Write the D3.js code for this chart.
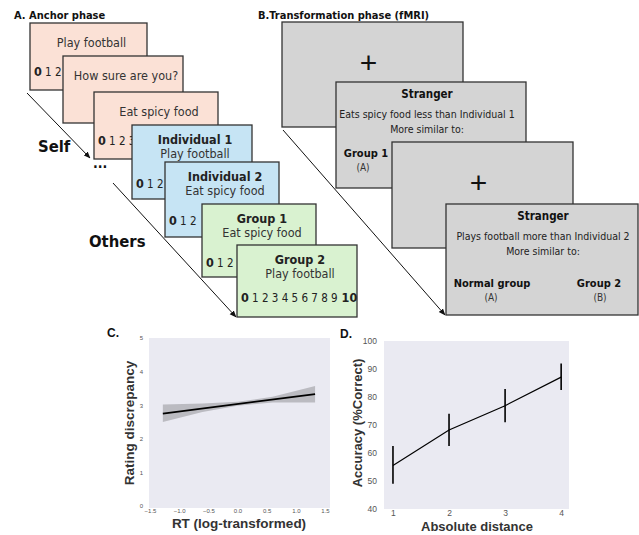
<!DOCTYPE html>
<html>
<head>
<meta charset="utf-8">
<script src="https://cdn.jsdelivr.net/npm/d3@7"></script>
<style>
  body { margin: 0; background: #fff; }
  svg { display: block; }
</style>
</head>
<body>
<div id="fig"></div>
<script>
// ---- panel A/B text content
const anchorTitles = [null, null, null, "Individual 1", "Individual 2", "Group 1", "Group 2"];
const anchorItems = ["Play football", "How sure are you?", "Eat spicy food", "Play football", "Eat spicy food", "Eat spicy food", "Play football"];
const ratingScale = ["0", "1", "2", "3", "4", "5", "6", "7", "8", "9", "10"];
// how many scale numbers peek out from under the next card (card 2 shows none)
const visibleNums = [3, 0, 4, 3, 3, 3, 11];
const strangerLines = [
  ["Eats spicy food less than Individual 1", "More similar to:"],
  ["Plays football more than Individual 2", "More similar to:"]
];
const choiceA = ["Group 1", "Normal group"];
const choiceB = [null, "Group 2"];

// ---- panel C data
const rtX = [-1.28, 1.33];
const fitY = [2.75, 3.33];
const bandX = [-1.28, -0.6, 0.0, 0.6, 1.33];
const bandLo = [2.5, 2.8, 2.98, 3.08, 3.08];
const bandHi = [3.02, 3.05, 3.1, 3.25, 3.57];
const cTicksX = [-1.5, -1.0, -0.5, 0.0, 0.5, 1.0, 1.5];
const cTicksY = [0, 1, 2, 3, 4, 5];

// ---- panel D data
const distance = [1, 2, 3, 4];
const accuracy = [55.5, 68.2, 76.9, 87.1];
const errLo = [49, 62.5, 71, 82.5];
const errHi = [62.5, 74, 82.9, 92];
const dTicksY = [40, 50, 60, 70, 80, 90, 100];

const W = 639, H = 535;
const svg = d3.select("#fig").append("svg").attr("width", W).attr("height", H);

svg.append("defs").append("marker")
  .attr("id", "arr").attr("viewBox", "0 0 10 10").attr("refX", 9).attr("refY", 5)
  .attr("markerWidth", 7).attr("markerHeight", 7).attr("orient", "auto")
  .append("path").attr("d", "M0,1 L10,5 L0,9 z").attr("fill", "#111");

const cardFont = "'DejaVu Sans Condensed', 'DejaVu Sans', sans-serif";
const plotFont = "'Liberation Sans', Arial, sans-serif";

// ---------------- Panel A
svg.append("text").attr("x", 14).attr("y", 19).attr("font-family", cardFont)
  .attr("font-weight", "bold").attr("font-size", 11).attr("fill", "#111").text("A. Anchor phase");

// card boxes [x, y, w, h, fill]
const aLayout = [
  [30, 23, 117, 67, "#fbe1d6"],
  [63, 56, 120, 67, "#fbe1d6"],
  [94, 92, 124, 67, "#fbe1d6"],
  [132, 125, 120, 74, "#c6e4f4"],
  [165, 162, 114, 75, "#c6e4f4"],
  [202, 204, 114, 73, "#d9f2d0"],
  [237, 245, 120, 72, "#d9f2d0"]
];

// arrows of panel A (drawn under cards)
svg.append("line").attr("x1", 27).attr("y1", 93).attr("x2", 90).attr("y2", 158)
  .attr("stroke", "#111").attr("stroke-width", 1).attr("marker-end", "url(#arr)");
svg.append("line").attr("x1", 113).attr("y1", 183).attr("x2", 236).attr("y2", 317)
  .attr("stroke", "#111").attr("stroke-width", 1).attr("marker-end", "url(#arr)");

aLayout.forEach((b, i) => {
  const g = svg.append("g").attr("transform", `translate(${b[0]},${b[1]})`);
  g.append("rect").attr("width", b[2]).attr("height", b[3]).attr("fill", b[4])
    .attr("stroke", "#333").attr("stroke-width", 1.3);
  const cx = b[2] / 2 + 3;
  const titled = anchorTitles[i] !== null;
  if (titled) {
    g.append("text").attr("x", cx).attr("y", 19).attr("text-anchor", "middle")
      .attr("font-family", cardFont).attr("font-weight", "bold").attr("font-size", 12.5)
      .attr("fill", "#222").text(anchorTitles[i]);
  }
  g.append("text").attr("x", cx).attr("y", titled ? 33 : 24).attr("text-anchor", "middle")
    .attr("font-family", cardFont).attr("font-size", 12.5).attr("fill", "#333").text(anchorItems[i]);
  if (visibleNums[i] > 0) {
    const nums = g.append("text").attr("x", 4).attr("y", i === 6 ? 57 : (titled ? 63 : 53))
      .attr("font-family", cardFont).attr("font-size", 11.5).attr("fill", "#222");
    ratingScale.slice(0, visibleNums[i]).forEach((n, k) => {
      const strong = k === 0 || k === ratingScale.length - 1;
      nums.append("tspan").attr("font-weight", strong ? "bold" : "normal")
        .attr("font-size", strong ? 12.5 : 11.5)
        .text((k ? " " : "") + n);
    });
  }
});

svg.append("text").attr("x", 38).attr("y", 152).attr("font-family", cardFont)
  .attr("font-weight", "bold").attr("font-size", 16.5).attr("fill", "#111").text("Self");
svg.append("text").attr("x", 93).attr("y", 168).attr("font-family", cardFont)
  .attr("font-weight", "bold").attr("font-size", 14).attr("fill", "#111").text("...");
svg.append("text").attr("x", 89).attr("y", 247).attr("font-family", cardFont)
  .attr("font-weight", "bold").attr("font-size", 16.5).attr("fill", "#111").text("Others");

// ---------------- Panel B
svg.append("text").attr("x", 258).attr("y", 19).attr("font-family", cardFont)
  .attr("font-weight", "bold").attr("font-size", 11).attr("fill", "#111").text("B.Transformation phase (fMRI)");

svg.append("line").attr("x1", 283).attr("y1", 130).attr("x2", 445).attr("y2", 315)
  .attr("stroke", "#111").attr("stroke-width", 1).attr("marker-end", "url(#arr)");

const bLayout = [
  [282, 22, 181, 105],
  [336, 82, 190, 106],
  [392, 142, 181, 106],
  [446, 204, 192, 111]
];

bLayout.forEach((b, i) => {
  const g = svg.append("g").attr("transform", `translate(${b[0]},${b[1]})`);
  g.append("rect").attr("width", b[2]).attr("height", b[3]).attr("fill", "#d4d4d4")
    .attr("stroke", "#333").attr("stroke-width", 1.3);
  if (i % 2 === 0) {
    g.append("text").attr("x", b[2] / 2 - 4).attr("y", 51).attr("text-anchor", "middle")
      .attr("font-family", plotFont).attr("font-size", 30).attr("fill", "#111").text("+");
  } else {
    const k = (i - 1) / 2;
    const cx = b[2] / 2 - (k === 0 ? 4 : -1);
    g.append("text").attr("x", cx).attr("y", 16).attr("text-anchor", "middle")
      .attr("font-family", cardFont).attr("font-weight", "bold").attr("font-size", 11.5)
      .attr("fill", "#111").text("Stranger");
    strangerLines[k].forEach((t, j) => {
      g.append("text").attr("x", cx).attr("y", 36 + j * 15).attr("text-anchor", "middle")
        .attr("font-family", cardFont).attr("font-size", 10.5).attr("fill", "#222").text(t);
    });
    const ay = k === 0 ? 75 : 83;
    const ax = k === 0 ? 30 : 46;
    g.append("text").attr("x", ax).attr("y", ay).attr("text-anchor", "middle")
      .attr("font-family", cardFont).attr("font-weight", "bold").attr("font-size", 11)
      .attr("fill", "#111").text(choiceA[k]);
    g.append("text").attr("x", ax - (k === 0 ? 3 : 1)).attr("y", ay + 14).attr("text-anchor", "middle")
      .attr("font-family", cardFont).attr("font-size", 10).attr("fill", "#333").text("(A)");
    if (choiceB[k]) {
      g.append("text").attr("x", 153).attr("y", ay).attr("text-anchor", "middle")
        .attr("font-family", cardFont).attr("font-weight", "bold").attr("font-size", 11)
        .attr("fill", "#111").text(choiceB[k]);
      g.append("text").attr("x", 154).attr("y", ay + 14).attr("text-anchor", "middle")
        .attr("font-family", cardFont).attr("font-size", 10).attr("fill", "#333").text("(B)");
    }
  }
});

// ---------------- Panel C
svg.append("text").attr("x", 107).attr("y", 337).attr("font-family", plotFont)
  .attr("font-weight", "bold").attr("font-size", 12).attr("fill", "#111").text("C.");

const xC = d3.scaleLinear().domain([-1.5, 1.5]).range([150, 325]);
const yC = d3.scaleLinear().domain([0, 5]).range([506, 338]);

svg.append("rect").attr("x", 149).attr("y", 338).attr("width", 181).attr("height", 170).attr("fill", "#eaeaf2");

const band = d3.area().x((d, i) => xC(bandX[i])).y0((d, i) => yC(bandLo[i])).y1((d, i) => yC(bandHi[i]));
svg.append("path").datum(bandX).attr("d", band).attr("fill", "#000").attr("fill-opacity", 0.2);
svg.append("path").datum(rtX).attr("d", d3.line().x(d => xC(d)).y((d, i) => yC(fitY[i])))
  .attr("fill", "none").attr("stroke", "#000").attr("stroke-width", 1.6);

const axCx = svg.append("g").attr("transform", "translate(0,506)")
  .call(d3.axisBottom(xC).tickValues(cTicksX).tickSize(0).tickFormat(d3.format(".1f")));
const axCy = svg.append("g").attr("transform", "translate(146,0)")
  .call(d3.axisLeft(yC).tickValues(cTicksY).tickSize(0).tickFormat(d3.format("d")));
[axCx, axCy].forEach(a => {
  a.select(".domain").remove();
  a.selectAll("text").attr("font-family", plotFont).attr("font-size", 6).attr("fill", "#555");
});
axCx.selectAll("text").attr("dy", "0.7em");

svg.append("text").attr("transform", "translate(134,423) rotate(-90)").attr("text-anchor", "middle")
  .attr("font-family", plotFont).attr("font-weight", "bold").attr("font-size", 13.5).attr("fill", "#333")
  .text("Rating discrepancy");
svg.append("text").attr("x", 239).attr("y", 528).attr("text-anchor", "middle")
  .attr("font-family", plotFont).attr("font-weight", "bold").attr("font-size", 13.5).attr("fill", "#333")
  .text("RT (log-transformed)");

// ---------------- Panel D
svg.append("text").attr("x", 340).attr("y", 338).attr("font-family", plotFont)
  .attr("font-weight", "bold").attr("font-size", 12).attr("fill", "#111").text("D.");

const xD = d3.scaleLinear().domain([0.84, 4.14]).range([384, 569]);
const yD = d3.scaleLinear().domain([40, 100]).range([509, 341]);

svg.append("rect").attr("x", 384).attr("y", 341).attr("width", 185).attr("height", 168).attr("fill", "#eaeaf2");

svg.append("path").datum(distance).attr("d", d3.line().x(d => xD(d)).y((d, i) => yD(accuracy[i])))
  .attr("fill", "none").attr("stroke", "#000").attr("stroke-width", 1.2);
svg.selectAll(".err").data(distance).enter().append("line").attr("class", "err")
  .attr("x1", d => xD(d)).attr("x2", d => xD(d))
  .attr("y1", (d, i) => yD(errLo[i])).attr("y2", (d, i) => yD(errHi[i]))
  .attr("stroke", "#000").attr("stroke-width", 1.6);

const axDx = svg.append("g").attr("transform", "translate(0,507)")
  .call(d3.axisBottom(xD).tickValues(distance).tickSize(0).tickFormat(d3.format("d")));
const axDy = svg.append("g").attr("transform", "translate(380,0)")
  .call(d3.axisLeft(yD).tickValues(dTicksY).tickSize(0).tickFormat(d3.format("d")));
[axDx, axDy].forEach(a => {
  a.select(".domain").remove();
  a.selectAll("text").attr("font-family", plotFont).attr("font-size", 8.5).attr("fill", "#555");
});
axDx.selectAll("text").attr("dy", "0.7em");

svg.append("text").attr("transform", "translate(362,423) rotate(-90)").attr("text-anchor", "middle")
  .attr("font-family", plotFont).attr("font-weight", "bold").attr("font-size", 13).attr("fill", "#333")
  .text("Accuracy (%Correct)");
svg.append("text").attr("x", 477).attr("y", 531).attr("text-anchor", "middle")
  .attr("font-family", plotFont).attr("font-weight", "bold").attr("font-size", 13).attr("fill", "#333")
  .text("Absolute distance");
</script>
</body>
</html>
